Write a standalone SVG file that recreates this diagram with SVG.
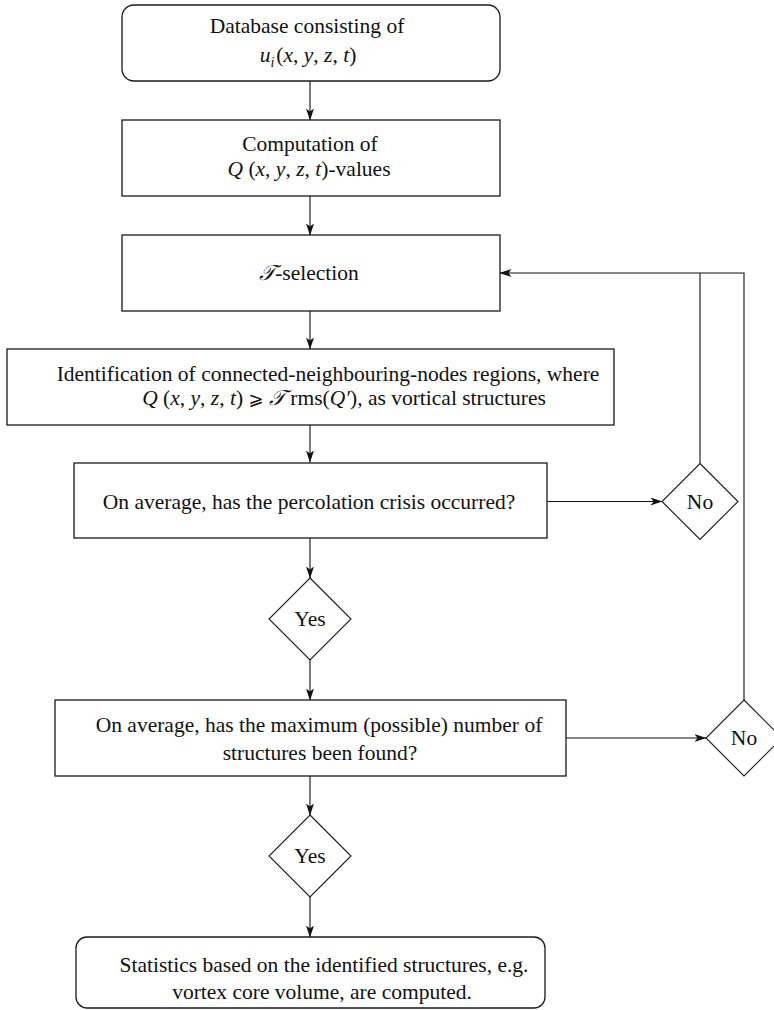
<svg xmlns="http://www.w3.org/2000/svg" width="774" height="1010" viewBox="0 0 774 1010">
<style>
.box{fill:#fff;stroke:#1a1a1a;stroke-width:1.3}
.dia{fill:#fff;stroke:#1a1a1a;stroke-width:1.1}
.t{font-family:'Liberation Serif','Times New Roman',Times,serif;font-size:21.5px;font-weight:normal;fill:#111;text-anchor:middle}
.i{font-style:italic}
.c{fill:none;stroke:#111;stroke-width:1.1}
</style>
<defs>
<marker id="ah" viewBox="0 0 12 8" refX="11.5" refY="4" markerWidth="12" markerHeight="8" markerUnits="userSpaceOnUse" orient="auto">
<path d="M0,0 L12,4 L0,8 L3,4 z" fill="#111"/>
</marker>
</defs>
<g id="connectors">
<line class="c" x1="310" y1="81" x2="310" y2="120" marker-end="url(#ah)"/>
<line class="c" x1="310" y1="196" x2="310" y2="235" marker-end="url(#ah)"/>
<line class="c" x1="310" y1="311" x2="310" y2="349" marker-end="url(#ah)"/>
<line class="c" x1="310" y1="425" x2="310" y2="462" marker-end="url(#ah)"/>
<line class="c" x1="310" y1="538" x2="310" y2="578" marker-end="url(#ah)"/>
<line class="c" x1="310" y1="660" x2="310" y2="700" marker-end="url(#ah)"/>
<line class="c" x1="310" y1="776" x2="310" y2="815" marker-end="url(#ah)"/>
<line class="c" x1="310" y1="897" x2="310" y2="937" marker-end="url(#ah)"/>
<line class="c" x1="547" y1="501.5" x2="662" y2="501.5" marker-end="url(#ah)"/>
<line class="c" x1="566" y1="738" x2="706" y2="738" marker-end="url(#ah)"/>
<polyline class="c" points="700,463.5 700,273"/>
<polyline class="c" points="744,700 744,273 500,273" marker-end="url(#ah)"/>
</g>
<g id="n1">
<rect class="box" x="122" y="5" width="378" height="76" rx="12"/>
<text class="t" x="307" y="33">Database consisting of</text>
<text class="t" x="308" y="62"><tspan class="i">u</tspan><tspan class="i" font-size="14" dy="5">i</tspan><tspan dy="-5" dx="2">(</tspan><tspan class="i">x</tspan>, <tspan class="i">y</tspan>, <tspan class="i">z</tspan>, <tspan class="i">t</tspan>)</text>
</g>
<g id="n2">
<rect class="box" x="122" y="120" width="378" height="76"/>
<text class="t" x="310" y="151">Computation of</text>
<text class="t" x="309" y="176"><tspan class="i">Q</tspan> (<tspan class="i">x</tspan>, <tspan class="i">y</tspan>, <tspan class="i">z</tspan>, <tspan class="i">t</tspan>)-values</text>
</g>
<g id="n3">
<rect class="box" x="122" y="235" width="378" height="76"/>
<text class="t" x="309" y="280"><tspan class="i">𝒯</tspan>-selection</text>
</g>
<g id="n4">
<rect class="box" x="7" y="349" width="607" height="76"/>
<text class="t" x="328" y="381">Identification of connected-neighbouring-nodes regions, where</text>
<text class="t" x="344" y="405"><tspan class="i">Q</tspan> (<tspan class="i">x</tspan>, <tspan class="i">y</tspan>, <tspan class="i">z</tspan>, <tspan class="i">t</tspan>) <tspan font-family="DejaVu Serif, DejaVu Sans, serif" font-size="18">⩾</tspan> <tspan class="i">𝒯</tspan> rms(<tspan class="i">Q′</tspan>), as vortical structures</text>
</g>
<g id="n5">
<rect class="box" x="74" y="463" width="473" height="75"/>
<text class="t" x="309" y="509">On average, has the percolation crisis occurred?</text>
</g>
<g id="n6">
<polygon class="dia" points="700,463.5 738,501.5 700,539.5 662,501.5"/>
<text class="t" x="700" y="509">No</text>
</g>
<g id="n7">
<polygon class="dia" points="310,578 351,619 310,660 269,619"/>
<text class="t" x="310" y="626">Yes</text>
</g>
<g id="n8">
<rect class="box" x="55" y="700" width="511" height="76"/>
<text class="t" x="319" y="732">On average, has the maximum (possible) number of</text>
<text class="t" x="320" y="760">structures been found?</text>
</g>
<g id="n9">
<polygon class="dia" points="744,700 782,738 744,776 706,738"/>
<text class="t" x="744" y="745">No</text>
</g>
<g id="n10">
<polygon class="dia" points="310,815 351,856 310,897 269,856"/>
<text class="t" x="310" y="863">Yes</text>
</g>
<g id="n11">
<rect class="box" x="76" y="937" width="469" height="71" rx="11"/>
<text class="t" x="324" y="972">Statistics based on the identified structures, e.g.</text>
<text class="t" x="322" y="999">vortex core volume, are computed.</text>
</g>
</svg>
